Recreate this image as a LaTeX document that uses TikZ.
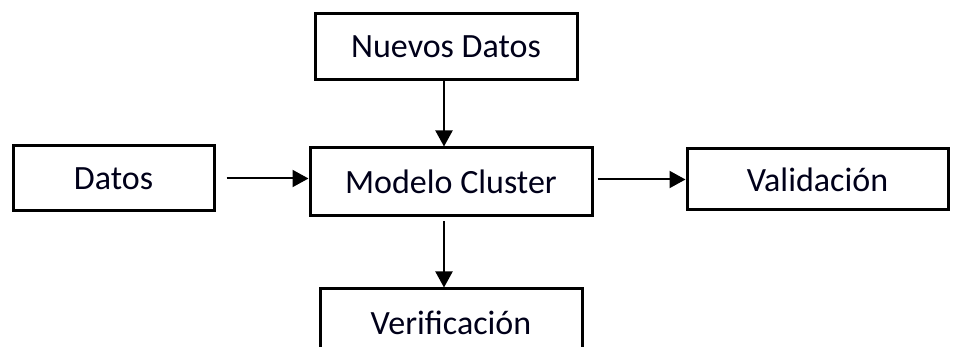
\documentclass[tikz,border=0pt]{standalone}
\usepackage{fontspec}
\setmainfont{Carlito}
\usetikzlibrary{arrows.meta}
\begin{document}
\begin{tikzpicture}[x=1pt,y=-1pt,
  box/.style={draw=black,line width=3pt,rectangle,inner sep=0pt,
    font=\fontsize{34}{40}\selectfont,text=black!90!blue},
  conn/.style={line width=2pt,-{Triangle[length=16pt,width=17pt]}}]
\useasboundingbox (0,0) rectangle (956,347);
\clip (0,0) rectangle (956,347);
\node[box,minimum width=262pt,minimum height=66pt] (nuevos) at (446,47) {Nuevos Datos};
\node[box,minimum width=201pt,minimum height=65pt] (datos) at (113.5,178.5) {Datos};
\node[box,minimum width=282pt,minimum height=68pt] (modelo) at (451,182) {Modelo Cluster};
\node[box,minimum width=261pt,minimum height=61pt] (valid) at (817.5,179.5) {Validación};
\node[box,minimum width=262pt,minimum height=68pt] (verif) at (451,323) {Verificación};
\coordinate (axis) at (444,0);
\draw[conn,shorten <=11pt] (datos.east) -- (modelo.west |- datos.east);
\draw[conn,shorten <=4pt] (modelo.east |- valid.west) -- (valid.west);
\draw[conn] (axis |- nuevos.south) -- (axis |- modelo.north);
\draw[conn,shorten <=4pt] (axis |- modelo.south) -- (axis |- verif.north);
\end{tikzpicture}
\end{document}
